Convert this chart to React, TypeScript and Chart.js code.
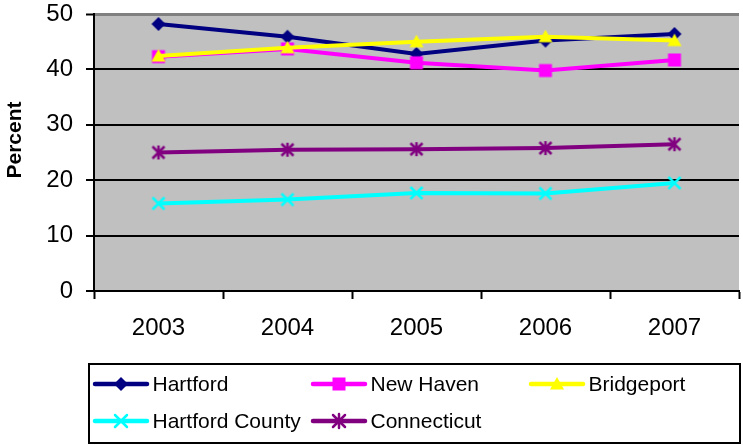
import React, { useEffect, useRef } from 'react';
import { Chart, registerables } from 'chart.js';

Chart.register(...registerables);

const years = ['2003', '2004', '2005', '2006', '2007'];
const hartford = [48.2, 45.9, 42.8, 45.2, 46.4];
const newHaven = [42.3, 43.7, 41.2, 39.8, 41.7];
const bridgeport = [42.4, 43.9, 45.0, 45.9, 45.2];
const hartfordCounty = [15.8, 16.5, 17.7, 17.6, 19.5];
const connecticut = [25.0, 25.5, 25.6, 25.8, 26.5];
const yTicks = [0, 10, 20, 30, 40, 50];
const seriesNames = ['Hartford', 'New Haven', 'Bridgeport', 'Hartford County', 'Connecticut'];
const seriesColors = ['#000080', '#FF00FF', '#FFFF00', '#00FFFF', '#800080'];
const seriesMarkers = ['diamond', 'square', 'triangle', 'x', 'star'];
const seriesValues = [hartford, newHaven, bridgeport, hartfordCounty, connecticut];
const yTitle = 'Percent';

const FONT = '"Liberation Sans", Arial, sans-serif';

function drawMarker(ctx: CanvasRenderingContext2D, kind: string, x: number, y: number, color: string) {
  ctx.save();
  ctx.fillStyle = color;
  ctx.strokeStyle = color;
  ctx.lineWidth = 2.5;
  ctx.beginPath();
  if (kind === 'diamond') {
    ctx.moveTo(x, y - 7);
    ctx.lineTo(x + 7, y);
    ctx.lineTo(x, y + 7);
    ctx.lineTo(x - 7, y);
    ctx.closePath();
    ctx.fill();
  } else if (kind === 'square') {
    ctx.rect(x - 6.5, y - 6.5, 13, 13);
    ctx.fill();
  } else if (kind === 'triangle') {
    ctx.moveTo(x, y - 7);
    ctx.lineTo(x + 7, y + 5.5);
    ctx.lineTo(x - 7, y + 5.5);
    ctx.closePath();
    ctx.fill();
  } else if (kind === 'x') {
    ctx.moveTo(x - 6, y - 6);
    ctx.lineTo(x + 6, y + 6);
    ctx.moveTo(x + 6, y - 6);
    ctx.lineTo(x - 6, y + 6);
    ctx.stroke();
  } else if (kind === 'star') {
    ctx.moveTo(x - 6, y - 6);
    ctx.lineTo(x + 6, y + 6);
    ctx.moveTo(x + 6, y - 6);
    ctx.lineTo(x - 6, y + 6);
    ctx.moveTo(x, y - 7);
    ctx.lineTo(x, y + 7);
    ctx.stroke();
  }
  ctx.restore();
}

function makeMarkerCanvas(kind: string, color: string) {
  const c = document.createElement('canvas');
  c.width = 20;
  c.height = 20;
  const ctx = c.getContext('2d') as CanvasRenderingContext2D;
  drawMarker(ctx, kind, 10, 10, color);
  return c;
}

const decorPlugin = {
  id: 'decor',
  beforeDraw(chart: any) {
    const { ctx, chartArea: a } = chart;
    ctx.save();
    ctx.fillStyle = '#ffffff';
    ctx.fillRect(0, 0, chart.width, chart.height);
    ctx.fillStyle = '#C0C0C0';
    ctx.fillRect(a.left, a.top, a.right - a.left, a.bottom - a.top);
    ctx.restore();
  },
  afterDraw(chart: any) {
    const { ctx } = chart;
    ctx.save();
    // y axis title
    ctx.translate(15, 140);
    ctx.rotate(-Math.PI / 2);
    ctx.font = 'bold 21px ' + FONT;
    ctx.fillStyle = '#000';
    ctx.textAlign = 'center';
    ctx.textBaseline = 'middle';
    ctx.fillText(yTitle, 0, 0);
    ctx.restore();

    // legend
    ctx.save();
    ctx.fillStyle = '#ffffff';
    ctx.fillRect(89, 364, 651, 79);
    ctx.strokeStyle = '#000';
    ctx.lineWidth = 2;
    ctx.strokeRect(89, 364, 651, 79);
    const cols = [94, 312, 530];
    const rows = [384, 421];
    ctx.font = '21px ' + FONT;
    ctx.textBaseline = 'middle';
    ctx.textAlign = 'left';
    chart.data.datasets.forEach((ds: any, i: number) => {
      const x = cols[i % 3];
      const y = rows[Math.floor(i / 3)];
      ctx.strokeStyle = seriesColors[i];
      ctx.lineWidth = 4.5;
      ctx.lineCap = 'round';
      ctx.beginPath();
      ctx.moveTo(x + 1, y);
      ctx.lineTo(x + 53, y);
      ctx.stroke();
      drawMarker(ctx, seriesMarkers[i], x + 27, y, seriesColors[i]);
      ctx.fillStyle = '#000';
      ctx.fillText(ds.label, x + 58.5, y + 1);
    });
    ctx.restore();
  },
};

export default function App() {
  const ref = useRef<HTMLCanvasElement | null>(null);

  useEffect(() => {
    if (!ref.current) return;
    Chart.defaults.font.family = FONT;
    const datasets = seriesNames.map((name, i) => ({
      label: name,
      data: seriesValues[i],
      borderColor: seriesColors[i],
      backgroundColor: seriesColors[i],
      borderWidth: 4,
      pointStyle: makeMarkerCanvas(seriesMarkers[i], seriesColors[i]) as any,
      pointRadius: 7,
      tension: 0,
      order: 5 - i,
    }));
    const chart = new Chart(ref.current, {
      type: 'line',
      data: { labels: years, datasets },
      options: {
        animation: false,
        responsive: false,
        devicePixelRatio: 1,
        layout: { padding: { left: 0, right: 4.5, top: 14, bottom: 0 } },
        plugins: { legend: { display: false }, tooltip: { enabled: false } },
        scales: {
          x: {
            type: 'category',
            offset: true,
            grid: {
              display: true,
              drawOnChartArea: false,
              drawTicks: true,
              tickLength: 8,
              tickColor: '#000',
              tickWidth: 2,
              offset: true,
            },
            border: { display: true, color: '#000', width: 2 },
            ticks: { color: '#000', font: { size: 24, family: FONT }, padding: 15, maxRotation: 0, autoSkip: false },
            afterFit: (s: any) => {
              s.height = 154;
              s.paddingLeft = 0;
              s.paddingRight = 0;
            },
          },
          y: {
            min: 0,
            max: 50,
            afterBuildTicks: (s: any) => {
              s.ticks = yTicks.map((v) => ({ value: v }));
            },
            ticks: { color: '#000', font: { size: 24, family: FONT }, padding: 13 },
            grid: {
              color: (c: any) => (c.tick && c.tick.value === 50 ? '#808080' : '#000'),
              lineWidth: (c: any) => (c.tick && c.tick.value === 50 ? 3 : 2),
              tickColor: '#000',
              tickLength: 8,
              tickWidth: 2,
            },
            border: { display: true, color: '#000', width: 2 },
            afterFit: (s: any) => {
              s.width = 94;
              s.paddingTop = 0;
              s.paddingBottom = 0;
            },
          },
        },
      },
      plugins: [decorPlugin],
    });
    return () => chart.destroy();
  }, []);

  return (
    <div style={{ position: 'fixed', left: 0, top: 0, width: 750, height: 445 }}>
      <canvas ref={ref} width={750} height={445} style={{ width: 750, height: 445, display: 'block' }} />
    </div>
  );
}
